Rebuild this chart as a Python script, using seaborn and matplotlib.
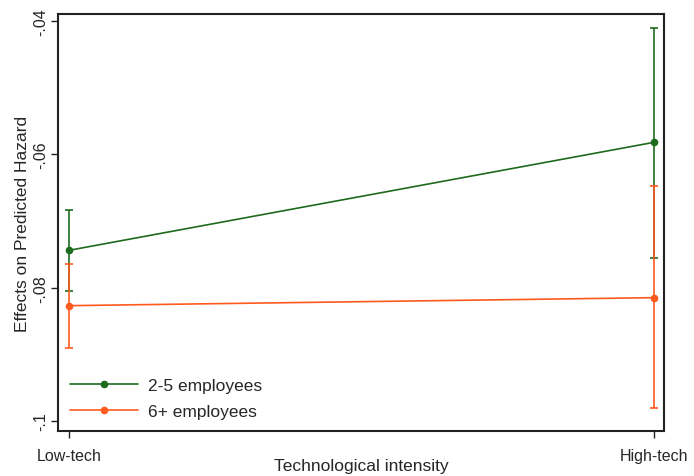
import matplotlib
matplotlib.use("Agg")
import matplotlib.pyplot as plt
import seaborn as sns
import pandas as pd
import numpy as np

# Predicted effects by technological intensity and firm size, with 95% CIs
categories = ["Low-tech", "High-tech"]
groups = ["2-5 employees", "6+ employees"]
effect_small = [-0.0744, -0.0582]
lower_small = [-0.0805, -0.0755]
upper_small = [-0.0684, -0.0411]
effect_large = [-0.0827, -0.0815]
lower_large = [-0.0890, -0.0980]
upper_large = [-0.0765, -0.0648]
y_ticks = [-0.04, -0.06, -0.08, -0.10]
y_tick_labels = ["-.04", "-.06", "-.08", "-.1"]

colors = {"2-5 employees": "#1e6b1e", "6+ employees": "#ff5a1e"}

sns.set_style("white")
plt.rcParams["font.family"] = ["Liberation Sans", "DejaVu Sans"]

df = pd.DataFrame({
    "pos": [0, 1, 0, 1],
    "group": [groups[0]] * 2 + [groups[1]] * 2,
    "effect": effect_small + effect_large,
    "lower": lower_small + lower_large,
    "upper": upper_small + upper_large,
})

fs_tick = 11.5
fs_lab = 12.5

fig = plt.figure(figsize=(6.94, 4.77), dpi=100)
ax = fig.add_axes([58 / 694, 1 - 432 / 477, (664 - 58) / 694, (432 - 15) / 477])

for g in groups:
    sub = df[df["group"] == g]
    ax.errorbar(sub["pos"], sub["effect"],
                yerr=[sub["effect"] - sub["lower"], sub["upper"] - sub["effect"]],
                fmt="none", ecolor=colors[g], elinewidth=1.2, capsize=3.2,
                capthick=1.2, zorder=2)

sns.lineplot(data=df, x="pos", y="effect", hue="group", hue_order=groups,
             palette=colors, marker="o", markersize=5.5, markeredgewidth=0,
             linewidth=1.2, ax=ax, zorder=3)

ax.set_xlim(-11 / 585, 1 + 10 / 585)
ax.set_ylim(-0.1015, -0.03895)
ax.set_xticks([0, 1])
ax.set_xticklabels(categories, fontsize=fs_tick)
ax.set_yticks(y_ticks)
ax.set_yticklabels(y_tick_labels, fontsize=fs_tick, rotation=90, va="center")
ax.tick_params(axis="both", direction="out", length=5, width=1, color="#222222",
               bottom=True, left=True, pad=3)
ax.tick_params(axis="x", pad=7)
ax.tick_params(axis="y", pad=2)

ax.set_xlabel("Technological intensity", fontsize=fs_lab, labelpad=-3)
ax.set_ylabel("Effects on Predicted Hazard", fontsize=fs_lab, labelpad=2)

for side, sp in ax.spines.items():
    sp.set_visible(True)
    sp.set_color("#222222")
    sp.set_linewidth(1.5)

leg = ax.legend(loc="lower left", bbox_to_anchor=(0.0, 0.0), frameon=False,
                fontsize=fs_lab, handlelength=3.9, handletextpad=0.6,
                labelspacing=0.6, borderaxespad=0.3)

fig.savefig("out.png", dpi=100)
